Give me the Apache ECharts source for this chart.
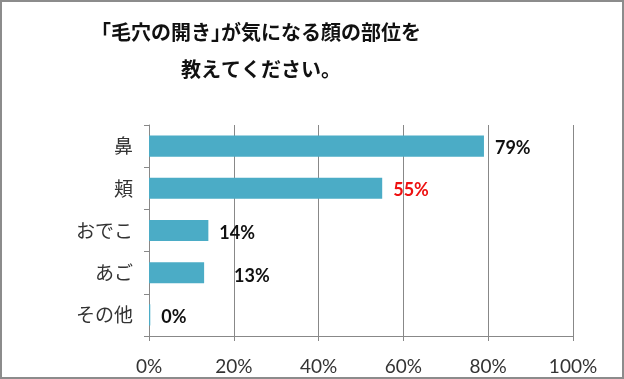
<!DOCTYPE html>
<html><head><meta charset="utf-8">
<script src="https://cdn.jsdelivr.net/npm/echarts@6/dist/echarts.min.js"></script>
<style>html,body{margin:0;padding:0;background:#fff}#c{width:624px;height:379px;box-sizing:border-box;border:2px solid #8c8c8c}</style>
</head><body><div id="c"></div>
<script>
const categories = ['鼻', '頬', 'おでこ', 'あご', 'その他'];
const values = [79, 55, 14, 13, 0.3];
const labelTexts = ['79%', '55%', '14%', '13%', '0%'];
const xTicks = ['0%', '20%', '40%', '60%', '80%', '100%'];
const labelColors = ['#111', '#ee1111', '#111', '#111', '#111'];
const labelOffsets = [[0, 2], [0, 2], [0, 3], [19, 3], [0, 2]];

const chart = echarts.init(document.getElementById('c'), null, {renderer: 'canvas'});
chart.setOption({
  animation: false,
  backgroundColor: '#fff',
  title: {
    text: '｢毛穴の開き｣が気になる顔の部位を\n教えてください。',
    left: 259, top: 12, padding: 0, textAlign: 'center',
    textStyle: {fontFamily: 'Noto Sans CJK JP', fontWeight: 'bold', fontSize: 20, lineHeight: 37, color: '#111'}
  },
  grid: {left: 147, right: 49, top: 123, bottom: 41, containLabel: false},
  xAxis: {
    type: 'value', min: 0, max: 100, interval: 20,
    axisLine: {show: true, lineStyle: {color: '#888'}},
    axisTick: {show: true, length: 5, lineStyle: {color: '#888'}},
    splitLine: {show: true, lineStyle: {color: '#888'}},
    axisLabel: {
      formatter: v => xTicks[Math.round(v / 20)],
      margin: 21, fontSize: 19, color: '#333', fontFamily: 'Lato'
    }
  },
  yAxis: {
    type: 'category', data: categories, inverse: true,
    axisLine: {show: true, lineStyle: {color: '#888'}},
    axisTick: {show: true, length: 5, lineStyle: {color: '#888'}},
    axisLabel: {margin: 16, fontSize: 19, color: '#333', fontFamily: 'Noto Sans CJK JP'}
  },
  series: [{
    type: 'bar',
    barWidth: '50%',
    itemStyle: {color: '#4BACC6'},
    data: values.map((v, i) => ({
      value: v,
      label: {
        show: true, position: 'right', distance: 11,
        offset: labelOffsets[i],
        formatter: () => labelTexts[i],
        color: labelColors[i], fontWeight: 'bold', fontSize: 18, fontFamily: 'Lato'
      }
    }))
  }]
});
</script></body></html>
